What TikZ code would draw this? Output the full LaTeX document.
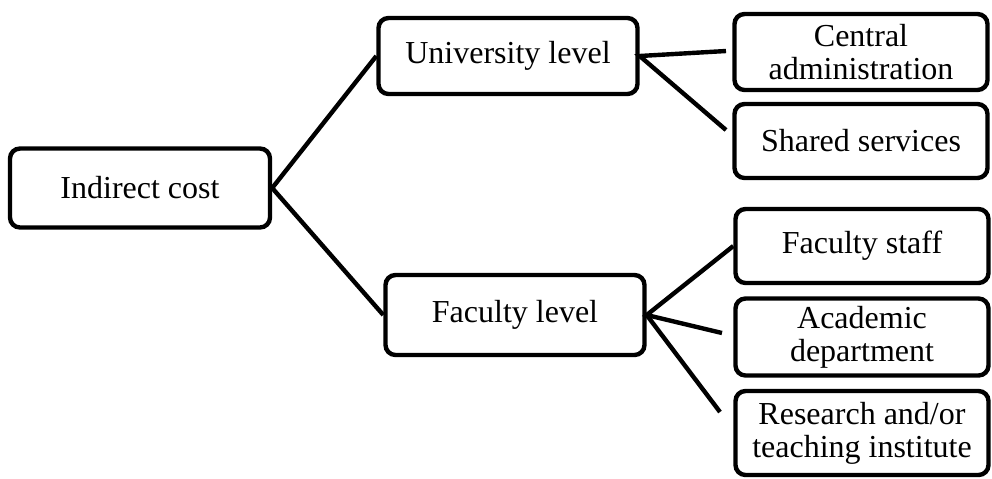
\documentclass[tikz,border=0pt]{standalone}
\usepackage{fontspec}
\setmainfont{Liberation Serif}
\usepackage{xcolor}

\begin{document}
\begin{tikzpicture}[x=0.5pt, y=-0.5pt,
    box/.style={draw, line width=2.2pt, rounded corners=5pt, align=center,
      font=\fontsize{16}{16.5}\selectfont, inner sep=0pt},
    link/.style={line width=2.2pt}]
      % \draw[help lines, gray!50, very thin] (0,0) grid (992,478);
      \useasboundingbox (0,0) rectangle (992,478);

      \node[box, minimum width=130pt, minimum height=39.5pt] (ind) at (140,188) {Indirect cost};
      \node[box, minimum width=129.5pt, minimum height=38pt] (uni) at (508,56) {University level};
      \node[box, minimum width=129.5pt, minimum height=40pt] (fac) at (515,315) {Faculty level};

      \node[box, minimum width=126.5pt, minimum height=38pt] (cen) at (861,52) {Central\\administration};
      \node[box, minimum width=126.5pt, minimum height=37pt] (sha) at (861,141) {Shared services};
      \node[box, minimum width=126.5pt, minimum height=37pt] (sta) at (862,246) {Faculty staff};
      \node[box, minimum width=126.5pt, minimum height=38.5pt] (aca) at (862,337) {Academic\\department};
      \node[box, minimum width=126.5pt, minimum height=42pt] (res) at (862,433) {Research and/or\\teaching institute};

      % loose line ends
      \coordinate (cenend) at (726,51);
      \coordinate (shaend) at (726,130);
      \coordinate (acaend) at (722,333);
      \coordinate (resend) at (720,412);

      \draw[link] (uni.west) -- (ind.east) -- (fac.west);
      \draw[link] (cenend) -- (uni.east) -- (shaend);
      \draw[link] (sta.west) -- (fac.east) -- (acaend);
      \draw[link] (fac.east) -- (resend);
    \end{tikzpicture}
\end{document}
